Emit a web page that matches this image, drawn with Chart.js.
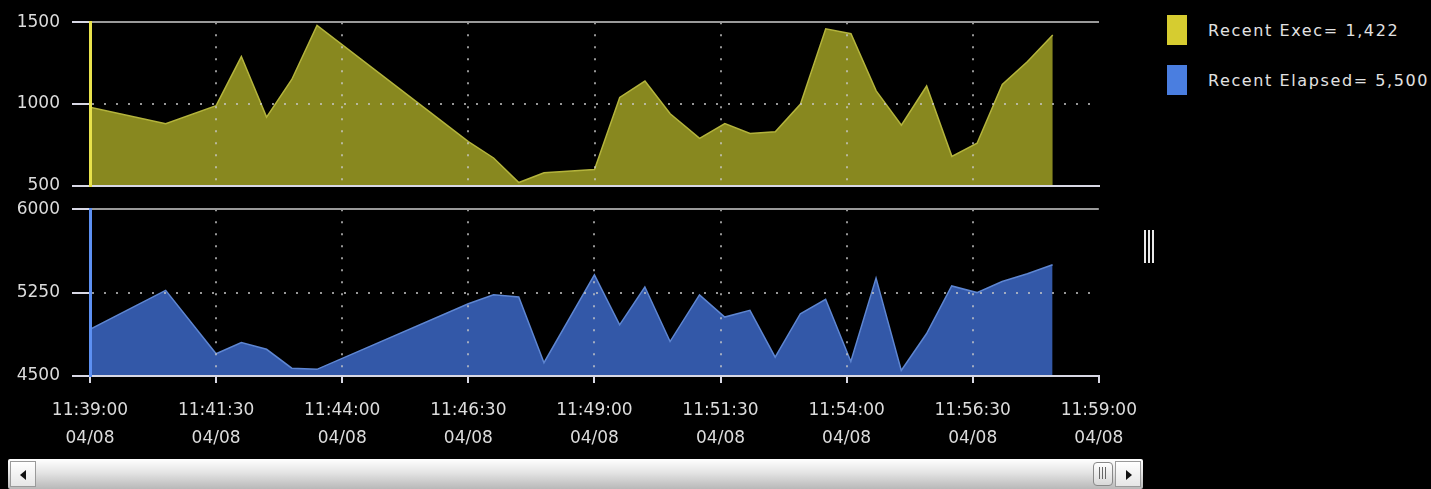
<!DOCTYPE html>
<html>
<head>
<meta charset="utf-8">
<script src="https://cdn.jsdelivr.net/npm/chart.js@4.4.0/dist/chart.umd.min.js"></script>
<style>
  body { margin: 0; background: #000; width: 1431px; height: 489px; overflow: hidden; position: relative; font-family: "DejaVu Sans", sans-serif; }
  #top-wrap { position: absolute; left: 0; top: 0; width: 1145px; height: 208px; }
  #bottom-wrap { position: absolute; left: 0; top: 187px; width: 1151px; height: 273px; }
  #legend { position: absolute; left: 1167px; top: 15px; }
  .item { position: relative; height: 50px; }
  .swatch { position: absolute; left: 0; top: 0; width: 20px; height: 30px; }
  .label { position: absolute; left: 41px; top: 6px; color: #e2e2e2; font-size: 16px; letter-spacing: 1.6px; white-space: nowrap; }
  #grip { position: absolute; left: 1144px; top: 230px; width: 11px; height: 33px; }
  #grip div { position: absolute; top: 0; width: 2px; height: 33px; background: #e8e8e8; }
  #scroll { position: absolute; left: 8px; top: 459px; width: 1135px; height: 30px; background: linear-gradient(#ffffff, #e4e4e4 45%, #b8b8b8); border-radius: 2px; }
  .btn { position: absolute; top: 2px; width: 26px; height: 26px; background: linear-gradient(#ffffff, #e6e6e6); border: 1px solid #9a9a9a; box-sizing: border-box; }
  .arrow-l { position: absolute; left: 9px; top: 8px; border-top: 5px solid transparent; border-bottom: 5px solid transparent; border-right: 6px solid #111; }
  .arrow-r { position: absolute; left: 10px; top: 8px; border-top: 5px solid transparent; border-bottom: 5px solid transparent; border-left: 6px solid #111; }
  #thumb { position: absolute; left: 1085px; top: 3px; width: 20px; height: 24px; background: linear-gradient(#ffffff, #d8d8d8); border: 1px solid #888; border-radius: 4px; box-sizing: border-box; }
  #thumb div { position: absolute; top: 4px; width: 1px; height: 12px; background: #666; }
</style>
</head>
<body>
<div id="top-wrap"><canvas id="execChart"></canvas></div>
<div id="bottom-wrap"><canvas id="elapsedChart"></canvas></div>
<div id="legend"></div>
<div id="grip"><div style="left:0"></div><div style="left:4px"></div><div style="left:8px"></div></div>
<div id="scroll">
  <div class="btn" style="left:2px"><div class="arrow-l"></div></div>
  <div id="thumb"><div style="left:5px"></div><div style="left:8px"></div><div style="left:11px"></div></div>
  <div class="btn" style="left:1107px"><div class="arrow-r"></div></div>
</div>
<script>
// Sample times (04/08)
const times = [
    "11:39:00", "11:40:30", "11:41:30", "11:42:00", "11:42:30", "11:43:00", "11:43:30",
    "11:46:30", "11:47:00", "11:47:30", "11:48:00", "11:49:00", "11:49:30", "11:50:00",
    "11:50:30", "11:51:05", "11:51:35", "11:52:05", "11:52:35", "11:53:05", "11:53:35",
    "11:54:05", "11:54:35", "11:55:05", "11:55:35", "11:56:05", "11:56:35", "11:57:05",
    "11:57:35", "11:58:05",
];

const execValues = [
    980, 880, 990, 1290, 920, 1150, 1480,
    770, 670, 520, 580, 600, 1040, 1140,
    940, 790, 880, 820, 830, 1000, 1460,
    1430, 1080, 870, 1110, 680, 760, 1120,
    1260, 1422,
];

const elapsedValues = [
    4920, 5270, 4700, 4800, 4740, 4570, 4560,
    5150, 5230, 5210, 4620, 5410, 4960, 5300,
    4810, 5230, 5030, 5090, 4670, 5060, 5190,
    4630, 5380, 4550, 4880, 5310, 5250, 5350,
    5420, 5500,
];

const timeTicks = ["11:39:00", "11:41:30", "11:44:00", "11:46:30", "11:49:00", "11:51:30", "11:54:00", "11:56:30", "11:59:00"];
const dateLabel = "04/08";
const execTicks = [500, 1000, 1500];
const elapsedTicks = [4500, 5250, 6000];

const FONT = "DejaVu Sans";
const TEXT = "#dcdcdc";

function toSec(t) {
    const [h, m, s] = t.split(":").map(Number);
    return h * 3600 + m * 60 + s;
}

function fmtTime(sec) {
    const pad = (n) => String(n).padStart(2, "0");
    return `${pad(Math.floor(sec / 3600))}:${pad(Math.floor(sec / 60) % 60)}:${pad(sec % 60)}`;
}

function makeChart(id, values, yTicks, colors, showLabels) {
    const first = toSec(timeTicks[0]);
    const last = toSec(timeTicks[timeTicks.length - 1]);
    const yMin = yTicks[0];
    const yMax = yTicks[yTicks.length - 1];

    return new Chart(document.getElementById(id), {
        type: "line",
        data: {
            datasets: [{
                data: times.map((t, i) => ({ x: toSec(t), y: values[i] })),
                borderColor: colors.line,
                backgroundColor: colors.fill,
                borderWidth: 1.5,
                fill: "start",
                tension: 0,
                pointRadius: 0,
            }],
        },
        options: {
            responsive: true,
            maintainAspectRatio: false,
            animation: false,
            events: [],
            layout: { padding: showLabels ? { top: 18, right: 52, bottom: 0, left: 0 } : { top: 21, right: 46, bottom: 15, left: 0 } },
            plugins: { legend: { display: false }, tooltip: { enabled: false } },
            scales: {
                x: {
                    type: "linear",
                    min: first,
                    max: last,
                    afterBuildTicks: (s) => { s.ticks = timeTicks.map((t) => ({ value: toSec(t) })); },
                    afterFit: (s) => { s.height = showLabels ? 84 : 0; },
                    ticks: {
                        display: showLabels,
                        autoSkip: false,
                        maxRotation: 0,
                        padding: 14,
                        color: TEXT,
                        font: { family: FONT, size: 17, lineHeight: "28px" },
                        callback: (v) => [fmtTime(v), dateLabel],
                    },
                    grid: {
                        z: 1,
                        lineWidth: 2,
                        drawTicks: showLabels,
                        tickLength: 7,
                        tickWidth: 2,
                        tickColor: "#d8d8e4",
                        color: (c) => (c.index === 0 || c.index === timeTicks.length - 1 ? "rgba(0,0,0,0)" : "rgba(200,200,200,0.75)"),
                    },
                    border: { z: 2, color: "#d8d8e4", width: 2, dash: [2, 10] },
                },
                y: {
                    min: yMin,
                    max: yMax,
                    afterBuildTicks: (s) => { s.ticks = yTicks.map((v) => ({ value: v })); },
                    afterFit: (s) => { s.width = 90; },
                    ticks: {
                        padding: 12,
                        color: TEXT,
                        font: { family: FONT, size: 17 },
                        callback: (v) => String(v),
                    },
                    grid: {
                        z: 1,
                        lineWidth: 2,
                        tickLength: 18,
                        tickWidth: 2,
                        tickColor: "#d8d8e4",
                        color: (c) => {
                            const v = c.tick && c.tick.value;
                            if (v === yMax) return "#9a9a9a";
                            if (v === yMin) return "rgba(0,0,0,0)";
                            return "rgba(200,200,200,0.75)";
                        },
                    },
                    border: {
                        z: 2,
                        color: colors.axis,
                        width: 3,
                        dash: (c) => (c.tick && c.tick.value !== yMax && c.tick.value !== yMin ? [2, 10] : []),
                    },
                },
            },
        },
    });
}

const series = [
    { name: "Recent Exec", values: execValues, swatch: "#d6cc30" },
    { name: "Recent Elapsed", values: elapsedValues, swatch: "#4a7ee0" },
];

// Legend with the most recent value of each series
const legend = document.getElementById("legend");
series.forEach((s) => {
    const last = s.values[s.values.length - 1];
    const item = document.createElement("div");
    item.className = "item";
    item.innerHTML = `<div class="swatch" style="background:${s.swatch}"></div><div class="label">${s.name}= ${last.toLocaleString("en-US")}</div>`;
    legend.appendChild(item);
});

makeChart("execChart", execValues, execTicks, { line: "#b4b43c", fill: "#88881f", axis: "#e8e24c" }, false);
makeChart("elapsedChart", elapsedValues, elapsedTicks, { line: "#5e86d2", fill: "#3358a8", axis: "#5d90f2" }, true);
</script>
</body>
</html>
